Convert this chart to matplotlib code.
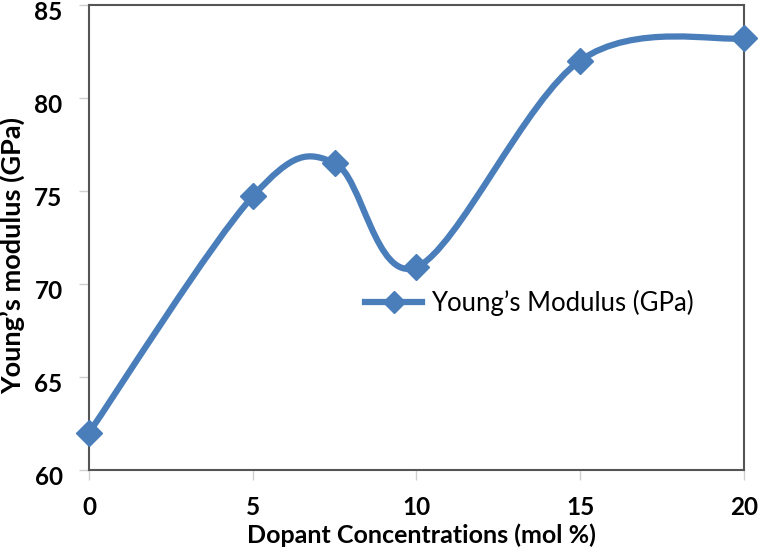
import matplotlib.pyplot as plt
from matplotlib.path import Path
from matplotlib.patches import PathPatch
from matplotlib.lines import Line2D
from matplotlib.transforms import ScaledTranslation
import numpy as np

dopant = [0, 5, 7.5, 10, 15, 20]
modulus = [62.0, 74.7, 76.5, 70.9, 82.0, 83.2]

blue = '#4a7ebb'

plt.rcParams['font.family'] = ['Lato', 'DejaVu Sans']

fig = plt.figure(figsize=(7.58, 5.47), dpi=100)
ax = fig.add_axes([0.1174, 0.1408, 0.8641, 0.8506])

# Excel-style smoothed line: Catmull-Rom as cubic Bezier segments
pts = np.column_stack([dopant, modulus])
verts = [tuple(pts[0])]
codes = [Path.MOVETO]
n = len(pts)
for i in range(n - 1):
    p0 = pts[max(i - 1, 0)]
    p1 = pts[i]
    p2 = pts[i + 1]
    p3 = pts[min(i + 2, n - 1)]
    c1 = p1 + (p2 - p0) / 6.0
    c2 = p2 - (p3 - p1) / 6.0
    verts += [tuple(c1), tuple(c2), tuple(p2)]
    codes += [Path.CURVE4] * 3
ax.add_patch(PathPatch(Path(verts, codes), fill=False, edgecolor=blue,
                       linewidth=4.5, capstyle='round', joinstyle='round', zorder=2))
ax.plot(dopant, modulus, linestyle='none', marker='D', markersize=13,
        color=blue, clip_on=False, zorder=3)

ax.set_xlim(0, 20)
ax.set_ylim(60, 85)
ax.set_xticks([0, 5, 10, 15, 20])
ax.set_yticks([60, 65, 70, 75, 80, 85])

for s in ax.spines.values():
    s.set_color('#555555')
    s.set_linewidth(1.5)

ax.tick_params(axis='both', direction='out', length=7, width=1, color='#d0d0d0',
               labelsize=17.5)
ax.tick_params(axis='x', pad=12)
ax.tick_params(axis='y', pad=12)
shift = ScaledTranslation(0, -6 / 100, fig.dpi_scale_trans)
for lbl in ax.get_yticklabels():
    lbl.set_transform(lbl.get_transform() + shift)
for lbl in ax.get_xticklabels() + ax.get_yticklabels():
    lbl.set_fontweight('bold')

ax.set_xlabel('Dopant Concentrations (mol %)', fontsize=18, fontweight='bold')
ax.set_ylabel('Young’s modulus (GPa)', fontsize=19.5, fontweight='bold')
ax.xaxis.set_label_coords(0.507, -0.14)
ax.yaxis.set_label_coords(-0.117, 0.46)
ax.xaxis.label.set_va('center')
ax.yaxis.label.set_va('center')

handle = Line2D([], [], color=blue, linewidth=4.5, marker='D', markersize=11)
ax.legend([handle], ['Young’s Modulus (GPa)'], loc='center left',
          bbox_to_anchor=(0.422, 0.36), borderaxespad=0, borderpad=0,
          frameon=False, fontsize=18.5, handlelength=2.2, handletextpad=0.35)

fig.savefig('out.png', dpi=100)
